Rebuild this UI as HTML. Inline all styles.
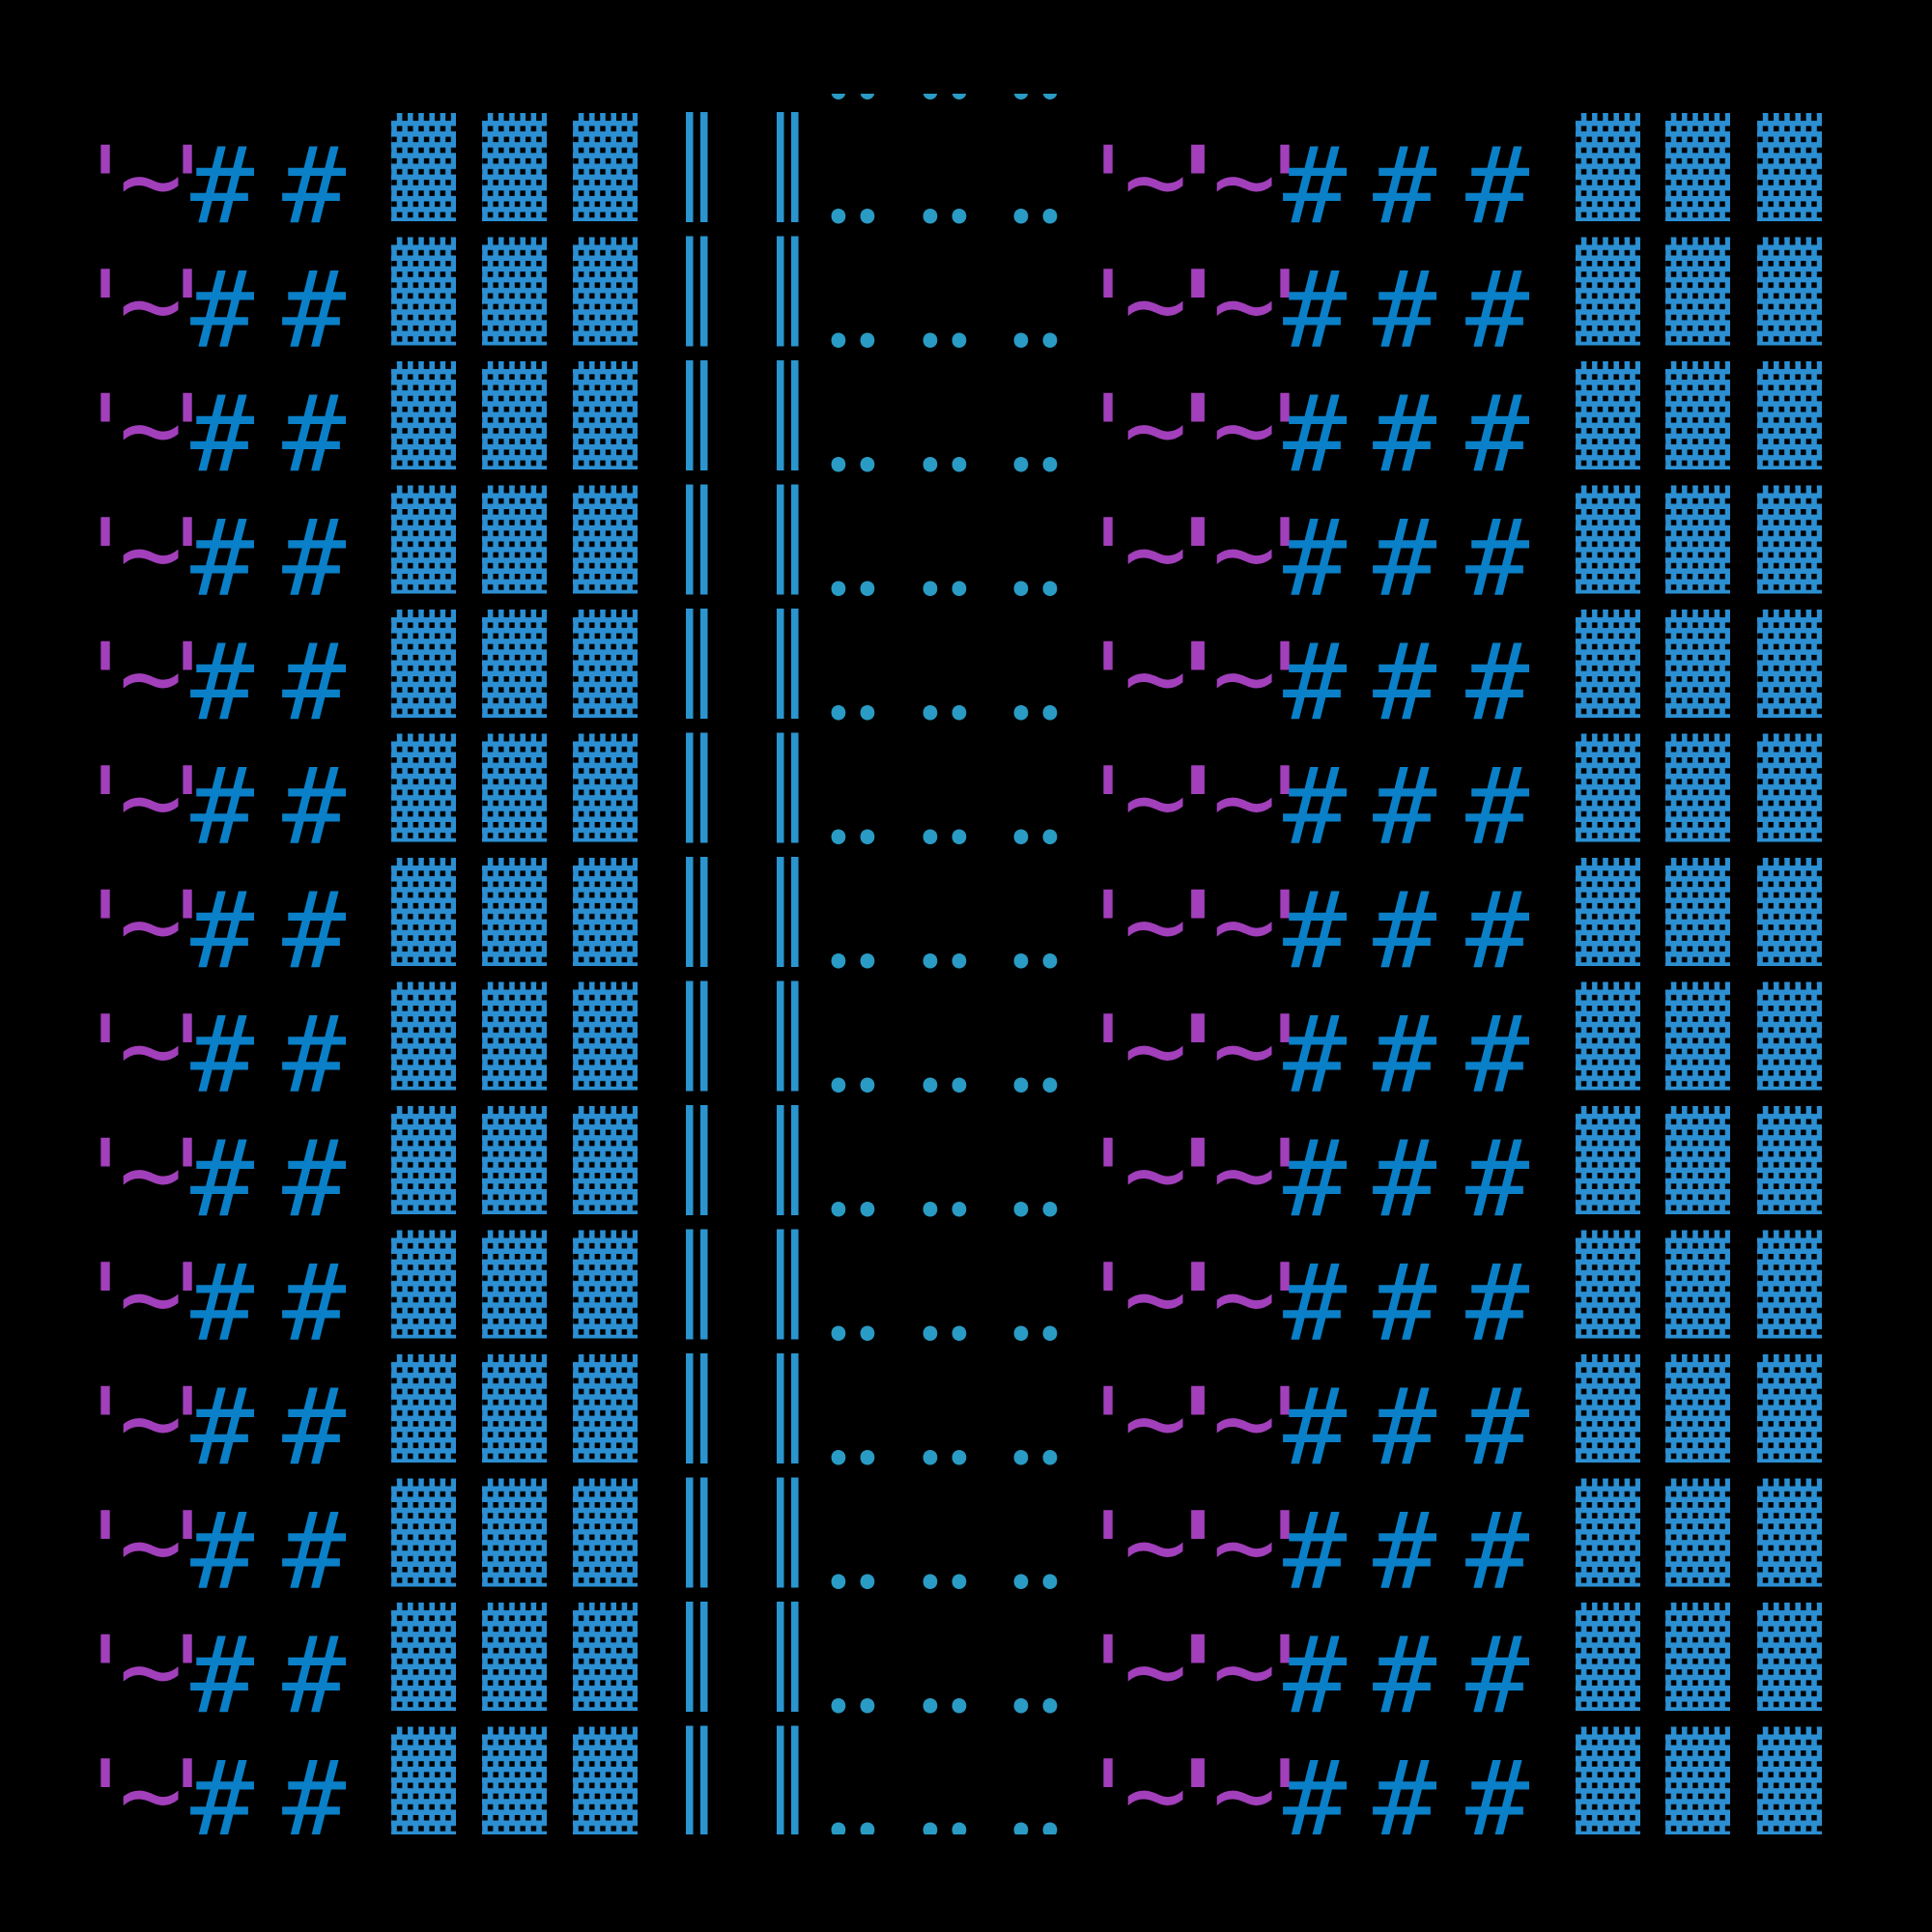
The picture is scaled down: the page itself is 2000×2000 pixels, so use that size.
<!DOCTYPE html>
<html><head><meta charset="utf-8"><style>
html,body{margin:0;padding:0;background:#000;}
svg{display:block}
text{font-family:"DejaVu Sans Mono","Liberation Mono",monospace;}
.p{fill:#a23fbb;font-size:110px}
.pb{fill:#a23fbb;font-size:110px;font-weight:bold}
.h{fill:#0a80c8;font-size:110px}
.d{fill:#2a9bc4;font-size:112px;font-family:"Noto Sans CJK JP","DejaVu Sans",sans-serif}
.v{fill:#2b95d0;font-size:96px}
</style></head><body>
<svg width="2000" height="2000" viewBox="0 0 2000 2000" xmlns="http://www.w3.org/2000/svg">
<rect width="2000" height="2000" fill="#000"/>
<defs>
<clipPath id="c"><rect x="0" y="97" width="2000" height="1802"/></clipPath>
<pattern id="holes" patternUnits="userSpaceOnUse" x="0.25" y="2.25" width="11.2" height="22.3">
<rect x="0" y="0" width="5.5" height="5.6" fill="#000"/>
<rect x="5.6" y="11.15" width="5.5" height="5.6" fill="#000"/>
</pattern>
<g id="blk">
<rect x="0" y="0" width="67" height="112" fill="#2b8fd2"/>
<rect x="0" y="0" width="67" height="109" fill="url(#holes)"/>
<rect x="0" y="0" width="5.75" height="7.8" fill="#000"/>
<rect x="11.45" y="0" width="5.5" height="7.8" fill="#000"/>
<rect x="22.65" y="0" width="5.5" height="7.8" fill="#000"/>
<rect x="33.85" y="0" width="5.5" height="7.8" fill="#000"/>
<rect x="45.05" y="0" width="5.5" height="7.8" fill="#000"/>
<rect x="56.25" y="0" width="5.5" height="7.8" fill="#000"/>
</g>
<g id="blocks">
<use href="#blk" x="405" y="117"/><use href="#blk" x="499" y="117"/><use href="#blk" x="593" y="117"/>
<use href="#blk" x="1631" y="117"/><use href="#blk" x="1724" y="117"/><use href="#blk" x="1819" y="117"/>
</g>
</defs>
<g clip-path="url(#c)">
<g transform="translate(0,-128.5)"><text class="d" text-anchor="middle" x="868 898 963 993 1057 1087" y="230">......</text></g>
<g transform="translate(0,0)"><text class="p" x="76 161" y="230">''</text><text class="p" x="123" y="225">~</text><text class="p" x="1114 1297" y="230">''</text><text class="p" x="1163 1255" y="225">~~</text><text class="pb" x="1207" y="230">'</text><text class="h" x="197 292 1328 1421 1517" y="230">#####</text><text class="d" text-anchor="middle" x="868 898 963 993 1057 1087" y="230">......</text><use href="#blocks"/><text class="v" x="692.5 786.5" y="206">║║</text></g>
<g transform="translate(0,128.5)"><text class="p" x="76 161" y="230">''</text><text class="p" x="123" y="225">~</text><text class="p" x="1114 1297" y="230">''</text><text class="p" x="1163 1255" y="225">~~</text><text class="pb" x="1207" y="230">'</text><text class="h" x="197 292 1328 1421 1517" y="230">#####</text><text class="d" text-anchor="middle" x="868 898 963 993 1057 1087" y="230">......</text><use href="#blocks"/><text class="v" x="692.5 786.5" y="206">║║</text></g>
<g transform="translate(0,257)"><text class="p" x="76 161" y="230">''</text><text class="p" x="123" y="225">~</text><text class="p" x="1114 1297" y="230">''</text><text class="p" x="1163 1255" y="225">~~</text><text class="pb" x="1207" y="230">'</text><text class="h" x="197 292 1328 1421 1517" y="230">#####</text><text class="d" text-anchor="middle" x="868 898 963 993 1057 1087" y="230">......</text><use href="#blocks"/><text class="v" x="692.5 786.5" y="206">║║</text></g>
<g transform="translate(0,385.5)"><text class="p" x="76 161" y="230">''</text><text class="p" x="123" y="225">~</text><text class="p" x="1114 1297" y="230">''</text><text class="p" x="1163 1255" y="225">~~</text><text class="pb" x="1207" y="230">'</text><text class="h" x="197 292 1328 1421 1517" y="230">#####</text><text class="d" text-anchor="middle" x="868 898 963 993 1057 1087" y="230">......</text><use href="#blocks"/><text class="v" x="692.5 786.5" y="206">║║</text></g>
<g transform="translate(0,514)"><text class="p" x="76 161" y="230">''</text><text class="p" x="123" y="225">~</text><text class="p" x="1114 1297" y="230">''</text><text class="p" x="1163 1255" y="225">~~</text><text class="pb" x="1207" y="230">'</text><text class="h" x="197 292 1328 1421 1517" y="230">#####</text><text class="d" text-anchor="middle" x="868 898 963 993 1057 1087" y="230">......</text><use href="#blocks"/><text class="v" x="692.5 786.5" y="206">║║</text></g>
<g transform="translate(0,642.5)"><text class="p" x="76 161" y="230">''</text><text class="p" x="123" y="225">~</text><text class="p" x="1114 1297" y="230">''</text><text class="p" x="1163 1255" y="225">~~</text><text class="pb" x="1207" y="230">'</text><text class="h" x="197 292 1328 1421 1517" y="230">#####</text><text class="d" text-anchor="middle" x="868 898 963 993 1057 1087" y="230">......</text><use href="#blocks"/><text class="v" x="692.5 786.5" y="206">║║</text></g>
<g transform="translate(0,771)"><text class="p" x="76 161" y="230">''</text><text class="p" x="123" y="225">~</text><text class="p" x="1114 1297" y="230">''</text><text class="p" x="1163 1255" y="225">~~</text><text class="pb" x="1207" y="230">'</text><text class="h" x="197 292 1328 1421 1517" y="230">#####</text><text class="d" text-anchor="middle" x="868 898 963 993 1057 1087" y="230">......</text><use href="#blocks"/><text class="v" x="692.5 786.5" y="206">║║</text></g>
<g transform="translate(0,899.5)"><text class="p" x="76 161" y="230">''</text><text class="p" x="123" y="225">~</text><text class="p" x="1114 1297" y="230">''</text><text class="p" x="1163 1255" y="225">~~</text><text class="pb" x="1207" y="230">'</text><text class="h" x="197 292 1328 1421 1517" y="230">#####</text><text class="d" text-anchor="middle" x="868 898 963 993 1057 1087" y="230">......</text><use href="#blocks"/><text class="v" x="692.5 786.5" y="206">║║</text></g>
<g transform="translate(0,1028)"><text class="p" x="76 161" y="230">''</text><text class="p" x="123" y="225">~</text><text class="p" x="1114 1297" y="230">''</text><text class="p" x="1163 1255" y="225">~~</text><text class="pb" x="1207" y="230">'</text><text class="h" x="197 292 1328 1421 1517" y="230">#####</text><text class="d" text-anchor="middle" x="868 898 963 993 1057 1087" y="230">......</text><use href="#blocks"/><text class="v" x="692.5 786.5" y="206">║║</text></g>
<g transform="translate(0,1156.5)"><text class="p" x="76 161" y="230">''</text><text class="p" x="123" y="225">~</text><text class="p" x="1114 1297" y="230">''</text><text class="p" x="1163 1255" y="225">~~</text><text class="pb" x="1207" y="230">'</text><text class="h" x="197 292 1328 1421 1517" y="230">#####</text><text class="d" text-anchor="middle" x="868 898 963 993 1057 1087" y="230">......</text><use href="#blocks"/><text class="v" x="692.5 786.5" y="206">║║</text></g>
<g transform="translate(0,1285)"><text class="p" x="76 161" y="230">''</text><text class="p" x="123" y="225">~</text><text class="p" x="1114 1297" y="230">''</text><text class="p" x="1163 1255" y="225">~~</text><text class="pb" x="1207" y="230">'</text><text class="h" x="197 292 1328 1421 1517" y="230">#####</text><text class="d" text-anchor="middle" x="868 898 963 993 1057 1087" y="230">......</text><use href="#blocks"/><text class="v" x="692.5 786.5" y="206">║║</text></g>
<g transform="translate(0,1413.5)"><text class="p" x="76 161" y="230">''</text><text class="p" x="123" y="225">~</text><text class="p" x="1114 1297" y="230">''</text><text class="p" x="1163 1255" y="225">~~</text><text class="pb" x="1207" y="230">'</text><text class="h" x="197 292 1328 1421 1517" y="230">#####</text><text class="d" text-anchor="middle" x="868 898 963 993 1057 1087" y="230">......</text><use href="#blocks"/><text class="v" x="692.5 786.5" y="206">║║</text></g>
<g transform="translate(0,1542)"><text class="p" x="76 161" y="230">''</text><text class="p" x="123" y="225">~</text><text class="p" x="1114 1297" y="230">''</text><text class="p" x="1163 1255" y="225">~~</text><text class="pb" x="1207" y="230">'</text><text class="h" x="197 292 1328 1421 1517" y="230">#####</text><text class="d" text-anchor="middle" x="868 898 963 993 1057 1087" y="230">......</text><use href="#blocks"/><text class="v" x="692.5 786.5" y="206">║║</text></g>
<g transform="translate(0,1670.5)"><text class="p" x="76 161" y="230">''</text><text class="p" x="123" y="225">~</text><text class="p" x="1114 1297" y="230">''</text><text class="p" x="1163 1255" y="225">~~</text><text class="pb" x="1207" y="230">'</text><text class="h" x="197 292 1328 1421 1517" y="230">#####</text><text class="d" text-anchor="middle" x="868 898 963 993 1057 1087" y="230">......</text><use href="#blocks"/><text class="v" x="692.5 786.5" y="206">║║</text></g>
</g>
</svg>
</body></html>
